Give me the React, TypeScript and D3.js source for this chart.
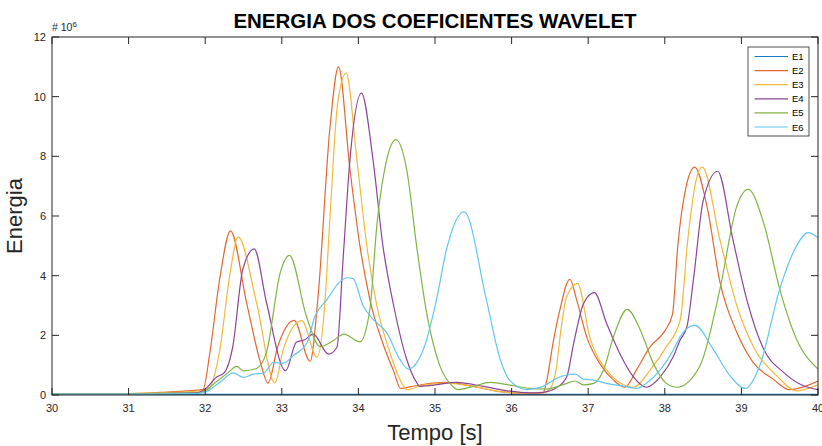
import React from 'react';
import * as d3 from 'd3';

// leituras aproximadas do grafico (tempo [s], energia x 1e6)
const e1: [number, number][] = [[30, 0.02], [32, 0.02], [34, 0.02], [36, 0.02], [38, 0.02], [40, 0.02]];

const e2: [number, number][] = [
  [30, 0.05], [31, 0.05], [31.5, 0.1], [31.97, 0.18], [32.06, 1.4], [32.19, 3.9], [32.33, 5.5],
  [32.54, 3.1], [32.72, 1.1], [32.82, 0.4], [32.95, 1.65], [33.16, 2.5], [33.37, 1.13],
  [33.47, 3.2], [33.63, 9.0], [33.74, 11.0], [33.89, 7.56], [34.02, 5.0], [34.15, 3.2],
  [34.33, 1.65], [34.46, 0.8], [34.55, 0.22], [34.67, 0.27], [34.98, 0.4], [35.15, 0.42],
  [35.5, 0.29], [35.85, 0.11], [36.15, 0.06], [36.41, 0.07], [36.46, 0.5], [36.54, 1.73],
  [36.63, 2.85], [36.76, 3.88], [36.85, 3.18], [36.98, 1.95], [37.15, 1.06], [37.33, 0.5],
  [37.48, 0.26], [37.63, 0.84], [37.81, 1.62], [38.0, 2.15], [38.1, 2.7], [38.17, 5.0],
  [38.28, 7.0], [38.39, 7.64], [38.55, 6.33], [38.72, 3.78], [38.94, 2.1], [39.15, 1.1],
  [39.41, 0.54], [39.63, 0.18], [40, 0.47],
];

const e3: [number, number][] = [
  [30, 0.04], [31, 0.05], [31.5, 0.08], [32.0, 0.15], [32.06, 0.25], [32.19, 1.5], [32.32, 4.0],
  [32.43, 5.3], [32.67, 3.1], [32.91, 0.4], [33.02, 1.53], [33.26, 2.49], [33.46, 1.26],
  [33.56, 3.0], [33.63, 6.0], [33.73, 9.8], [33.84, 10.79], [33.98, 7.89], [34.11, 5.0],
  [34.24, 3.0], [34.41, 1.43], [34.59, 0.3], [34.63, 0.18], [34.85, 0.33], [35.15, 0.4],
  [35.5, 0.29], [35.94, 0.09], [36.41, 0.07], [36.5, 0.2], [36.59, 1.0], [36.63, 1.9],
  [36.72, 3.3], [36.86, 3.74], [37.02, 1.95], [37.24, 0.84], [37.59, 0.26], [37.81, 0.84],
  [38.02, 1.62], [38.2, 2.5], [38.3, 5.2], [38.4, 7.1], [38.49, 7.64], [38.72, 5.2],
  [38.94, 3.0], [39.15, 1.65], [39.46, 0.65], [39.72, 0.14], [40, 0.34],
];

const e4: [number, number][] = [
  [30, 0.03], [31, 0.04], [31.9, 0.08], [32.0, 0.2], [32.15, 0.6], [32.25, 0.75], [32.36, 1.62],
  [32.49, 4.2], [32.64, 4.9], [32.8, 3.1], [33.05, 0.81], [33.19, 1.77], [33.3, 1.85],
  [33.41, 2.04], [33.61, 1.37], [33.72, 1.6], [33.8, 4.55], [33.89, 7.9], [34.04, 10.12],
  [34.19, 7.9], [34.32, 5.0], [34.46, 3.0], [34.63, 1.2], [34.76, 0.42], [34.8, 0.29],
  [34.98, 0.33], [35.28, 0.42], [35.63, 0.29], [35.94, 0.14], [36.24, 0.07], [36.41, 0.09],
  [36.59, 0.25], [36.72, 0.61], [36.81, 1.73], [36.94, 3.07], [37.08, 3.43], [37.24, 2.4],
  [37.41, 1.4], [37.59, 0.61], [37.76, 0.26], [37.94, 0.61], [38.11, 1.28], [38.2, 1.84],
  [38.29, 2.3], [38.38, 4.0], [38.5, 6.5], [38.69, 7.5], [38.89, 5.2], [39.07, 3.2],
  [39.29, 1.54], [39.55, 0.76], [39.81, 0.31], [40, 0.18],
];

const e5: [number, number][] = [
  [30, 0.04], [31, 0.04], [31.9, 0.06], [32.0, 0.15], [32.15, 0.45], [32.3, 0.75], [32.41, 0.96],
  [32.5, 0.81], [32.67, 0.89], [32.8, 1.43], [32.98, 4.1], [33.1, 4.68], [33.32, 2.65],
  [33.5, 1.62], [33.67, 1.82], [33.81, 2.04], [34.02, 1.78], [34.15, 2.88], [34.24, 5.66],
  [34.37, 7.89], [34.49, 8.56], [34.63, 7.56], [34.76, 5.0], [34.89, 2.76], [35.06, 1.0],
  [35.2, 0.37], [35.3, 0.18], [35.5, 0.29], [35.72, 0.42], [35.98, 0.33], [36.24, 0.22],
  [36.46, 0.2], [36.72, 0.39], [36.83, 0.47], [36.94, 0.34], [37.07, 0.39], [37.2, 0.84],
  [37.33, 1.95], [37.51, 2.87], [37.68, 2.18], [37.85, 1.06], [38.02, 0.39], [38.16, 0.26],
  [38.46, 0.98], [38.72, 3.55], [38.94, 6.33], [39.09, 6.89], [39.29, 5.77], [39.5, 3.55],
  [39.72, 1.87], [40, 0.87],
];

const e6: [number, number][] = [
  [30, 0.03], [31, 0.03], [31.9, 0.05], [32.0, 0.1], [32.19, 0.42], [32.37, 0.74], [32.5, 0.59],
  [32.63, 0.7], [32.76, 0.73], [32.89, 1.09], [33.02, 1.07], [33.15, 1.32], [33.33, 1.76],
  [33.43, 2.62], [33.59, 3.2], [33.76, 3.8], [33.85, 3.93], [33.93, 3.9], [34.06, 3.0],
  [34.19, 2.54], [34.37, 2.09], [34.54, 1.2], [34.65, 0.87], [34.85, 1.54], [35.02, 3.2],
  [35.15, 4.88], [35.38, 6.14], [35.67, 3.2], [35.85, 1.2], [35.98, 0.48], [36.2, 0.18],
  [36.41, 0.29], [36.59, 0.56], [36.72, 0.67], [36.83, 0.7], [36.94, 0.53], [37.07, 0.5],
  [37.24, 0.39], [37.5, 0.28], [37.63, 0.22], [37.76, 0.39], [37.94, 0.84], [38.11, 1.5],
  [38.2, 1.95], [38.39, 2.34], [38.63, 1.54], [38.85, 0.65], [39.05, 0.22], [39.24, 0.98],
  [39.5, 3.55], [39.72, 5.0], [39.87, 5.44], [40, 5.27],
];

const seriesNames = ['E1', 'E2', 'E3', 'E4', 'E5', 'E6'];
const seriesData = [e1, e2, e3, e4, e5, e6];
const colors = ['#1A7BC0', '#E2682F', '#F1BA3A', '#8C4499', '#82B443', '#62C6F0'];
const xTicks = [30, 31, 32, 33, 34, 35, 36, 37, 38, 39, 40];
const yTicks = [0, 2, 4, 6, 8, 10, 12];

const W = 822;
const H = 446;
const margin = { top: 37, right: 4, bottom: 51, left: 52 };
const axisColor = '#262626';
const font = 'Liberation Sans, Arial, Helvetica, sans-serif';

export default function App() {
  const iw = W - margin.left - margin.right;
  const ih = H - margin.top - margin.bottom;

  const x = d3.scaleLinear().domain([30, 40]).range([0, iw]);
  const y = d3.scaleLinear().domain([0, 12]).range([ih, 0]);

  const line = d3.line<[number, number]>()
    .x(d => x(d[0]))
    .y(d => y(d[1]))
    .curve(d3.curveMonotoneX);

  const tickLen = 7;
  const lx = iw - 70;
  const ly = 10;

  return (
    <svg width={W} height={H} style={{ position: 'absolute', left: 0, top: 0, background: '#fff' }}
      fontFamily={font}>
      <text x={margin.left + iw / 2} y={28} textAnchor="middle" fontSize={20.5} fontWeight="bold"
        fill="#000">ENERGIA DOS COEFICIENTES WAVELET</text>

      <g transform={`translate(${margin.left},${margin.top})`}>
        <defs>
          <clipPath id="plot-clip">
            <rect x={0} y={-2} width={iw} height={ih + 2} />
          </clipPath>
        </defs>

        <g clipPath="url(#plot-clip)">
          {seriesData.map((s, i) => (
            <path key={seriesNames[i]} d={line(s) || ''} fill="none" stroke={colors[i]}
              strokeWidth={1.2} strokeLinejoin="round" />
          ))}
        </g>

        {/* caixa e ticks */}
        <rect x={0} y={0} width={iw} height={ih} fill="none" stroke={axisColor} strokeWidth={1} />
        {xTicks.map(t => (
          <g key={'x' + t}>
            <line x1={x(t)} x2={x(t)} y1={ih} y2={ih - tickLen} stroke={axisColor} />
            <line x1={x(t)} x2={x(t)} y1={0} y2={tickLen} stroke={axisColor} />
            <text x={x(t)} y={ih + 17} textAnchor="middle" fontSize={11} fill={axisColor}>{t}</text>
          </g>
        ))}
        {yTicks.map(t => (
          <g key={'y' + t}>
            <line x1={0} x2={tickLen} y1={y(t)} y2={y(t)} stroke={axisColor} />
            <line x1={iw} x2={iw - tickLen} y1={y(t)} y2={y(t)} stroke={axisColor} />
            <text x={-6} y={y(t) + 4} textAnchor="end" fontSize={11} fill={axisColor}>{t}</text>
          </g>
        ))}

        <text x={0} y={-6} fontSize={10.5} fill={axisColor}>
          # 10<tspan dy={-4} fontSize={8}>6</tspan>
        </text>

        <text x={iw / 2} y={ih + 45} textAnchor="middle" fontSize={22} fill={axisColor}>Tempo [s]</text>
        <text transform={`translate(${-30},${ih / 2}) rotate(-90)`} textAnchor="middle" fontSize={22}
          fill={axisColor}>Energia</text>

        {/* legenda */}
        <g transform={`translate(${lx},${ly})`}>
          <rect x={0} y={0} width={61} height={89} fill="#fff" stroke={axisColor} strokeWidth={0.8} />
          {seriesNames.map((n, i) => (
            <g key={n} transform={`translate(0,${9.5 + i * 14.1})`}>
              <line x1={6.5} x2={40} y1={0} y2={0} stroke={colors[i]} strokeWidth={1.2} />
              <text x={44} y={3.5} fontSize={9.5} fill="#000">{n}</text>
            </g>
          ))}
        </g>
      </g>
    </svg>
  );
}
